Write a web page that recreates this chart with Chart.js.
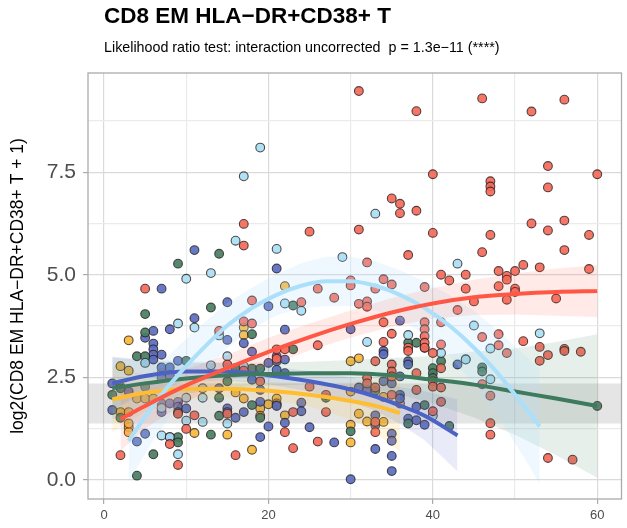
<!DOCTYPE html>
<html>
<head>
<meta charset="utf-8">
<script src="https://cdn.jsdelivr.net/npm/chart.js@4.4.1/dist/chart.umd.min.js"></script>
<style>
  body { margin: 0; background: #fff; font-family: "Liberation Sans", Arial, sans-serif; }
  #wrap { position: relative; width: 627px; height: 528px; }
  #title { position: absolute; left: 104px; top: 3px; font-size: 22.5px; font-weight: bold; color: #000; }
  #subtitle { position: absolute; left: 104px; top: 39px; font-size: 14.3px; color: #000; }
  canvas { position: absolute; left: 0; top: 0; }
</style>
</head>
<body>
<div id="wrap">
  <canvas id="chart" width="627" height="528"></canvas>
  <div id="title">CD8 EM HLA−DR+CD38+ T</div>
  <div id="subtitle">Likelihood ratio test: interaction uncorrected&nbsp; p = 1.3e−11 (****)</div>
</div>
<script>
// axis settings
const xMin = -1.95, xMax = 62.95;
const yMin = -0.47, yMax = 9.92;
const xTickLabels = ['0', '20', '40', '60'];
const yTickLabels = ['0.0', '2.5', '5.0', '7.5'];

// reference range (grey band)
const refLow = 1.37, refHigh = 2.35;

// points per group [age, value]
const redPts = [[31,9.48],[38,8.99],[46,9.3],[52,8.98],[56,9.27],[54,7.65],[40,7.45],[60,7.45],[47,7.28],[47,7.15],
  [47,7.03],[54,7.13],[35,6.86],[36,6.73],[36,6.5],[38,6.56],[17,6.24],[25,6.05],[31,6.1],[17,5.71],
  [40,6.02],[47,5.97],[52,6.25],[54,6.08],[56,6.32],[59,5.97],[56,5.6],[46,5.55],[37,5.48],[32,5.3],
  [41,5.0],[42,4.86],[44,5.0],[48,5.09],[49,4.97],[49,4.88],[50,5.09],[51,5.24],[53,5.18],[59,5.14],
  [34,4.89],[35,4.76],[30,4.86],[30,4.74],[39,4.7],[44,4.66],[50,4.66],[33,4.66],[26,4.66],[5,4.66],
  [48,4.72],[50,4.58],[49,4.39],[55,4.42],[45,4.35],[28,4.44],[18,4.37],[24,4.33],[31,4.29],[32,4.35],
  [32,4.22],[43,4.14],[17,3.86],[18,3.81],[34,3.84],[41,3.84],[14,3.63],[35,3.56],[39,3.84],[39,3.67],
  [39,3.5],[39,3.34],[39,3.22],[46,3.48],[48,3.55],[48,3.28],[49,3.09],[51,3.38],[53,3.24],[53,2.9],
  [54,3.04],[56,3.19],[56,3.14],[58,3.12],[34,3.36],[37,3.22],[37,3.14],[41,3.3],[40,3.09],[26,3.28],
  [21,3.18],[22,3.18],[21,2.95],[15,2.81],[33,2.89],[35,2.81],[35,2.64],[38,2.6],[41,2.72],[35,2.52],
  [32,2.48],[32,2.35],[40,2.4],[40,2.27],[17,2.66],[19,2.4],[25,2.27],[27,2.07],[46,2.33],[47,2.05],
  [47,1.38],[47,1.1],[54,0.53],[57,0.49],[33,2.25],[35,2.07],[33,1.16],[38,2.19],[41,2.25],[41,1.9],
  [40,1.67],[33,1.41],[23,1.65],[27,1.65],[22,1.16],[15,1.61],[11,1.57],[16,0.6],[26,0.93],[23,0.77],
  [2,0.6],[8,0.87],[9,0.36],[10,1.24],[9,1.61]];
const lightBluePts = [[19,8.1],[17,7.4],[16,5.83],[21,5.63],[29,5.43],[13,5.04],[10,4.9],[33,6.49],[43,5.27],
  [45,3.76],[53,3.57],[47,3.2],[47,2.45],[44,2.94],[37,3.53],[32,3.36],[41,3.09],[44,2.93],[40,1.56],
  [22,4.3],[24,4.12],[9,3.81],[11,3.71],[5,2.85],[13,2.79],[14,3.52],[15,3.01],[17,2.77],
  [12,2.23],[12,2.0],[10,2.0],[10,1.44],[15,1.37],[12,1.41],[7,1.08],[8,1.04],[9,0.62],[7,1.75]];
const greenPts = [[14,5.51],[9,5.27],[5,4.04],[13,4.2],[23,4.25],[5,3.59],[4,3.01],[5,3.01],[10,2.9],
  [18,3.55],[23,3.18],[18,2.71],[19,2.71],[16,2.72],[15,2.4],[37,3.34],[38,3.34],[39,3.22],[41,2.89],
  [40,2.72],[40,2.6],[40,2.48],[33,2.17],[46,2.74],[46,2.64],[60,1.8],[39,1.82],[42,1.31],[37,1.37],
  [30,1.18],[14,2.0],[18,1.82],[19,1.51],[14,1.56],[13,1.1],[27,2.0],[1,2.07],[2,1.51],[2,2.23],
  [5,2.27],[6,0.62],[4,0.1],[9,1.04],[9,0.91],[9,1.65]];
const darkBluePts = [[11,5.6],[21,5.15],[7,4.66],[15,4.33],[20,4.23],[11,3.94],[8,3.67],[6,3.63],[5,3.46],
  [6,3.32],[6,3.18],[6,3.05],[6,2.93],[7,3.05],[9,2.9],[7,2.74],[8,2.74],[1,2.35],
  [22,3.66],[15,3.41],[17,3.33],[18,3.12],[21,3.01],[21,2.89],[22,2.93],[20,2.85],[21,2.68],[22,2.6],[18,2.44],
  [36,3.88],[30,3.67],[34,3.14],[34,3.06],[37,2.89],[37,2.81],[43,2.81],[36,2.52],[34,2.4],
  [31,2.25],[35,2.35],[36,2.07],[36,1.98],[32,2.19],[33,1.57],[33,1.33],
  [33,0.75],[35,1.12],[35,0.95],[35,0.58],[35,0.21],[30,0.01],[38,1.78],[37,1.49],[38,1.45],[39,1.34],
  [19,2.19],[14,2.23],[19,1.9],[21,1.82],[22,1.39],[20,1.3],[15,1.74],[15,1.65],[16,1.51],[19,1.04],
  [25,1.28],[28,0.91],[21,1.8],[24,1.88],[24,1.67],[17,1.65],
  [1,1.7],[5,1.12],[4,0.93],[7,1.86],[8,1.86],[9,1.9],[7,1.65],[3,2.15],[7,2.48],[8,2.55],[9,1.78],[10,1.74],[8,1.04]];
const yellowPts = [[22,4.72],[17,3.71],[17,3.53],[3,3.4],[2,2.77],[3,2.66],[30,2.89],[31,2.96],
  [30,2.15],[34,2.02],[36,1.86],[31,1.61],[32,1.42],[34,1.41],[30,1.34],[30,0.91],
  [16,2.13],[17,1.98],[20,1.84],[21,1.98],[21,1.86],[19,1.74],[19,1.56],[22,1.57],[11,1.14],[15,1.1],[18,0.73],
  [2,1.65],[3,1.65],[3,1.28],[3,1.16],[3,1.37],[4,1.98],[5,1.98],[6,1.98],[7,2.6],[2,2.27]];

// smooth fits: x, fitted value, lower, upper
const redFitX  = [2, 5, 10, 15, 20, 25, 30, 35, 40, 45, 50, 55, 60];
const redFitY  = [1.48, 1.8, 2.3, 2.72, 3.12, 3.48, 3.8, 4.08, 4.3, 4.45, 4.53, 4.58, 4.6];
const redFitLo = [0.7, 1.25, 1.9, 2.4, 2.78, 3.15, 3.47, 3.73, 3.93, 4.02, 4.03, 4.0, 3.97];
const redFitHi = [2.26, 2.35, 2.7, 3.04, 3.46, 3.81, 4.13, 4.43, 4.67, 4.88, 5.03, 5.15, 5.23];

const lbFitX  = [3, 6, 9, 12, 15, 18, 21, 24, 27, 30, 33, 36, 39, 42, 45, 48, 51, 53];
const lbFitY  = [0.95, 1.82, 2.55, 3.19, 3.76, 4.19, 4.51, 4.73, 4.84, 4.84, 4.73, 4.51, 4.19, 3.76, 3.22, 2.57, 1.82, 1.3];
const lbFitLo = [-0.05, 0.97, 1.85, 2.59, 3.21, 3.69, 4.01, 4.18, 4.24, 4.24, 4.13, 3.91, 3.54, 3.01, 2.32, 1.52, 0.57, -0.1];
const lbFitHi = [1.95, 2.67, 3.25, 3.79, 4.31, 4.69, 5.01, 5.28, 5.44, 5.44, 5.33, 5.11, 4.84, 4.51, 4.12, 3.62, 3.07, 2.7];

const greenFitX  = [1, 5, 10, 15, 20, 25, 30, 35, 40, 45, 50, 55, 60];
const greenFitY  = [2.23, 2.35, 2.47, 2.55, 2.58, 2.6, 2.6, 2.55, 2.44, 2.32, 2.15, 1.98, 1.8];
const greenFitLo = [1.48, 1.8, 2.09, 2.25, 2.3, 2.32, 2.28, 2.13, 1.86, 1.52, 1.1, 0.6, 0.05];
const greenFitHi = [2.98, 2.9, 2.85, 2.85, 2.86, 2.88, 2.92, 2.97, 3.02, 3.12, 3.2, 3.36, 3.55];

const blueFitX  = [1, 5, 10, 15, 20, 25, 30, 33, 36, 39, 43];
const blueFitY  = [2.35, 2.53, 2.64, 2.64, 2.55, 2.4, 2.2, 2.03, 1.81, 1.56, 1.08];
const blueFitLo = [1.7, 2.13, 2.39, 2.42, 2.33, 2.15, 1.9, 1.68, 1.36, 0.96, 0.2];
const blueFitHi = [3.0, 2.93, 2.89, 2.86, 2.77, 2.65, 2.5, 2.38, 2.26, 2.16, 1.96];

const yellowFitX  = [1, 5, 10, 15, 20, 25, 30, 33, 36];
const yellowFitY  = [1.96, 2.12, 2.21, 2.22, 2.17, 2.07, 1.92, 1.8, 1.63];
const yellowFitLo = [1.16, 1.67, 1.96, 2.0, 1.95, 1.79, 1.47, 1.15, 0.68];
const yellowFitHi = [2.76, 2.57, 2.46, 2.44, 2.39, 2.35, 2.37, 2.45, 2.58];

function pts(list) {
    return list.map(p => ({ x: p[0], y: p[1] }));
}

function zip(xs, ys) {
    return xs.map((x, i) => ({ x: x, y: ys[i] }));
}

function pointSet(list, color) {
    return {
        type: 'scatter',
        data: pts(list),
        backgroundColor: color,
        borderColor: 'rgba(30,20,20,0.75)',
        borderWidth: 1.1,
        pointRadius: 4.4,
        order: 10
    };
}

function bandSets(xs, lo, hi, color) {
    return [
        { type: 'line', data: zip(xs, hi), borderWidth: 0, pointRadius: 0, backgroundColor: color, fill: '+1', order: 5 },
        { type: 'line', data: zip(xs, lo), borderWidth: 0, pointRadius: 0, backgroundColor: color, fill: false, order: 5 }
    ];
}

function lineSet(xs, ys, color) {
    return {
        type: 'line',
        data: zip(xs, ys),
        borderColor: color,
        borderWidth: 4,
        pointRadius: 0,
        cubicInterpolationMode: 'monotone',
        fill: false,
        order: 1
    };
}

const datasets = [
    pointSet(redPts, 'rgba(244,105,90,0.92)'),
    pointSet(lightBluePts, 'rgba(170,222,243,0.92)'),
    pointSet(greenPts, 'rgba(72,126,98,0.92)'),
    pointSet(darkBluePts, 'rgba(90,109,191,0.92)'),
    pointSet(yellowPts, 'rgba(249,185,58,0.92)'),
    { type: 'line', data: zip([xMin, xMax], [refHigh, refHigh]), borderWidth: 0, pointRadius: 0,
      backgroundColor: 'rgba(110,110,110,0.18)', fill: '+1', order: 8 },
    { type: 'line', data: zip([xMin, xMax], [refLow, refLow]), borderWidth: 0, pointRadius: 0, fill: false, order: 8 },
    ...bandSets(redFitX, redFitLo, redFitHi, 'rgba(255,90,72,0.13)'),
    ...bandSets(lbFitX, lbFitLo, lbFitHi, 'rgba(170,222,250,0.2)'),
    ...bandSets(greenFitX, greenFitLo, greenFitHi, 'rgba(60,122,94,0.12)'),
    ...bandSets(blueFitX, blueFitLo, blueFitHi, 'rgba(76,98,196,0.12)'),
    ...bandSets(yellowFitX, yellowFitLo, yellowFitHi, 'rgba(255,190,50,0.14)'),
    lineSet(redFitX, redFitY, '#FF5745'),
    lineSet(lbFitX, lbFitY, '#ABDFFA'),
    lineSet(greenFitX, greenFitY, '#3D7A5E'),
    lineSet(blueFitX, blueFitY, '#4C62C4'),
    lineSet(yellowFitX, yellowFitY, '#FFBE32')
];

// full grey frame round the panel
const panelBorder = {
    id: 'panelBorder',
    afterDatasetsDraw(chart) {
        const a = chart.chartArea;
        const ctx = chart.ctx;
        ctx.save();
        ctx.strokeStyle = '#ABABAB';
        ctx.lineWidth = 1.3;
        ctx.strokeRect(a.left, a.top, a.right - a.left, a.bottom - a.top);
        ctx.restore();
    }
};

const isMajorX = v => Math.abs(v % 20) < 1e-6;
const isMajorY = v => Math.abs((v / 2.5) - Math.round(v / 2.5)) < 1e-6;

new Chart(document.getElementById('chart'), {
    type: 'scatter',
    data: { datasets: datasets },
    options: {
        responsive: false,
        animation: false,
        layout: { padding: { top: 73, right: 4, left: 0, bottom: 0 } },
        plugins: { legend: { display: false }, tooltip: { enabled: false } },
        scales: {
            x: {
                type: 'linear',
                min: xMin,
                max: xMax,
                afterBuildTicks: scale => {
                    scale.ticks = [0, 10, 20, 30, 40, 50, 60].map(v => ({ value: v }));
                },
                afterFit: scale => { scale.height = 29; },
                ticks: {
                    padding: 4,
                    color: '#4D4D4D',
                    font: { family: 'Liberation Sans', size: 13 },
                    callback: v => isMajorX(v) ? xTickLabels[v / 20] : ''
                },
                grid: {
                    color: ctx => isMajorX(ctx.tick.value) ? '#DADADA' : '#EBEBEB',
                    tickColor: ctx => isMajorX(ctx.tick.value) ? '#ABABAB' : 'rgba(0,0,0,0)',
                    tickLength: 5,
                    lineWidth: 1.2
                },
                border: { display: false }
            },
            y: {
                type: 'linear',
                min: yMin,
                max: yMax,
                afterBuildTicks: scale => {
                    scale.ticks = [0, 1.25, 2.5, 3.75, 5, 6.25, 7.5, 8.75].map(v => ({ value: v }));
                },
                afterFit: scale => { scale.width = 88; },
                ticks: {
                    padding: 7,
                    color: '#4D4D4D',
                    font: { family: 'Liberation Sans', size: 21 },
                    callback: v => isMajorY(v) ? yTickLabels[Math.round(v / 2.5)] : ''
                },
                grid: {
                    color: ctx => isMajorY(ctx.tick.value) ? '#DADADA' : '#EBEBEB',
                    tickColor: ctx => isMajorY(ctx.tick.value) ? '#ABABAB' : 'rgba(0,0,0,0)',
                    tickLength: 5,
                    lineWidth: 1.2
                },
                border: { display: false },
                title: {
                    display: true,
                    text: 'log2(CD8 EM HLA−DR+CD38+ T + 1)',
                    color: '#000',
                    font: { family: 'Liberation Sans', size: 17.5 },
                    padding: { top: 8, bottom: 4 }
                }
            }
        }
    },
    plugins: [panelBorder]
});
</script>
</body>
</html>
